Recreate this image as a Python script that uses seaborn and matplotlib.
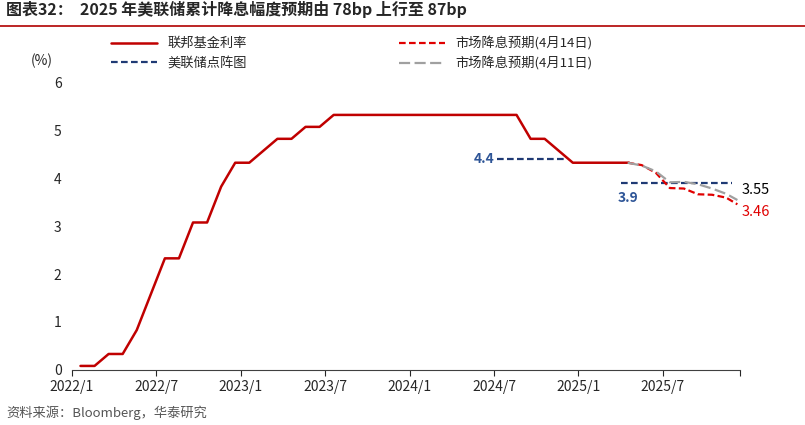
import matplotlib
matplotlib.use("Agg")
import matplotlib.pyplot as plt
import seaborn as sns
import numpy as np
import pandas as pd

sns.set_style("white")
plt.rcParams['font.family'] = ['Noto Sans CJK SC', 'DejaVu Sans']

fed_x = np.arange(0, 40) + 0.6
fed_vals = [0.08,0.08,0.33,0.33,0.83,1.58,2.33,2.33,3.08,3.08,3.83,4.33,4.33,4.58,4.83,4.83,5.08,5.08,
            5.33,5.33,5.33,5.33,5.33,5.33,5.33,5.33,5.33,5.33,5.33,5.33,5.33,5.33,4.83,4.83,4.58,4.33,
            4.33,4.33,4.33,4.33]
proj_x = [39.5, 40.5, 41.5, 42.5, 43.5, 44.5, 45.5, 46.5, 47.3]
red_vals = [4.33, 4.28, 4.12, 3.80, 3.79, 3.67, 3.66, 3.60, 3.46]
grey_vals = [4.33, 4.27, 4.15, 3.92, 3.93, 3.88, 3.79, 3.68, 3.55]
dot_44_x = [30.2, 35.1]
dot_39_x = [39.0, 46.9]
tick_pos = [0, 6, 12, 18, 24, 30, 36, 42]
tick_labels = ["2022/1","2022/7","2023/1","2023/7","2024/1","2024/7","2025/1","2025/7"]

fig = plt.figure(figsize=(8.05, 4.25), dpi=100)
ax = fig.add_axes([0.0895, 0.13, 0.83, 0.675])
red = "#C00000"
navy = "#1F3A74"
sns.lineplot(x=fed_x, y=fed_vals, ax=ax, color=red, lw=1.8, label="联邦基金利率")
sns.lineplot(x=[dot_44_x[0], dot_44_x[1]], y=[4.4, 4.4], ax=ax, color=navy, lw=1.6, ls=(0,(3,1.5)), label="美联储点阵图")
sns.lineplot(x=dot_39_x, y=[3.9, 3.9], ax=ax, color=navy, lw=1.6, ls=(0,(3,1.5)))
sns.lineplot(x=proj_x, y=red_vals, ax=ax, color="#E00000", lw=1.6, ls=(0,(3,1.5)), label="市场降息预期(4月14日)")
sns.lineplot(x=proj_x, y=grey_vals, ax=ax, color="#A0A0A0", lw=1.6, ls=(0,(5,2)), label="市场降息预期(4月11日)")

ax.set_xlim(0, 47.5)
ax.set_ylim(0, 6)
ax.set_xticks(tick_pos + [47.5])
ax.set_xticklabels(tick_labels + [""], fontsize=10)
ax.set_yticks(range(7))
ax.tick_params(axis='both', labelsize=10, length=4, direction='out', bottom=True, left=False)
for s in ["top", "right", "left"]:
    ax.spines[s].set_visible(False)
ax.spines["bottom"].set_color("#404040")
ax.text(-0.045, 1.06, "(%)", transform=ax.transAxes, fontsize=10, ha="center")

ax.text(30.0, 4.4, "4.4", color="#2E5597", fontsize=10, fontweight="bold", ha="right", va="center")
ax.text(39.5, 3.6, "3.9", color="#2E5597", fontsize=10, fontweight="bold", ha="center", va="center")
ax.text(47.6, 3.75, "3.55", color="black", fontsize=10.5, ha="left", va="center")
ax.text(47.6, 3.3, "3.46", color="#E00000", fontsize=10.5, ha="left", va="center")

h, l = ax.get_legend_handles_labels()
ax.legend(h, l, ncol=2, frameon=False, fontsize=9.5,
          loc="lower left", bbox_to_anchor=(0.04, 1.0), columnspacing=11.5, handlelength=3.5)

fig.text(0.008, 0.965, "图表32：  2025 年美联储累计降息幅度预期由 78bp 上行至 87bp", fontsize=11.5, fontweight="bold")
fig.add_artist(plt.Line2D([0, 1], [0.94, 0.94], color="#B00000", lw=1.2, transform=fig.transFigure))
fig.text(0.008, 0.018, "资料来源：Bloomberg，华泰研究", fontsize=9.5, color="#555555")
fig.savefig("out.png", dpi=100)
